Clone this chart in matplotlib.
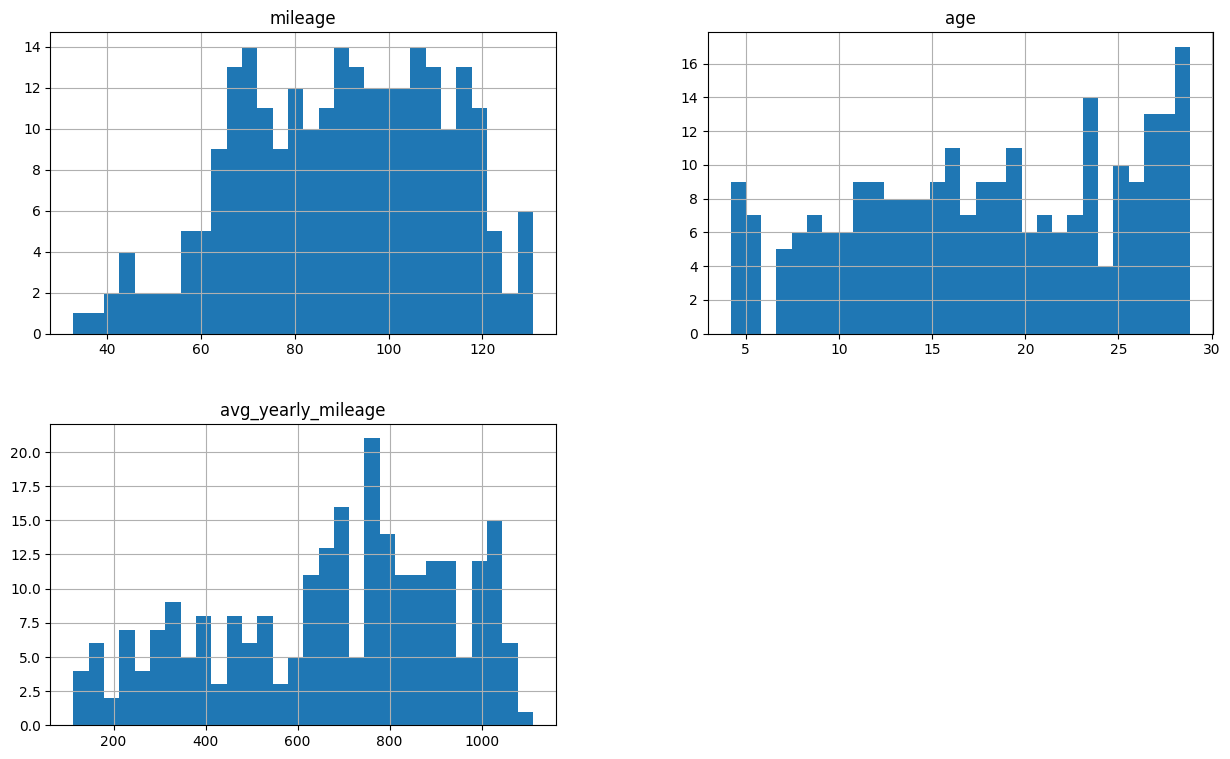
"""
Histograms of mileage, age and avg_yearly_mileage (30 bins each)
"""
import numpy as np
import matplotlib
matplotlib.use("Agg")
import matplotlib.pyplot as plt

# bin ranges (30 equal bins)
mileage_range = (32.8, 130.8)
age_range = (4.18, 28.84)
avg_range = (112.9, 1111.8)

# counts per bin
mileage_counts = [1, 1, 2, 4, 2, 2, 2, 5, 5, 9, 13, 14, 11, 9, 12,
                  10, 11, 14, 13, 12, 12, 12, 14, 13, 10, 13, 11, 5, 2, 6]
age_counts = [9, 7, 0, 5, 6, 7, 6, 6, 9, 9, 8, 8, 8, 9, 11,
              7, 9, 9, 11, 6, 7, 6, 7, 14, 4, 10, 9, 13, 13, 17]
avg_counts = [4, 6, 2, 7, 4, 7, 9, 5, 8, 3, 8, 6, 8, 3, 5,
              11, 13, 16, 5, 21, 14, 11, 11, 12, 12, 5, 12, 15, 6, 1]

panels = [("mileage", mileage_range, mileage_counts),
          ("age", age_range, age_counts),
          ("avg_yearly_mileage", avg_range, avg_counts)]

fig, axes = plt.subplots(2, 2, figsize=(15, 9))
fig.subplots_adjust(wspace=0.3, hspace=0.3)
axes = axes.ravel()

for ax, (name, rng, counts) in zip(axes, panels):
    edges = np.linspace(rng[0], rng[1], len(counts) + 1)
    centers = (edges[:-1] + edges[1:]) / 2
    ax.hist(centers, bins=edges, weights=counts, color="C0")
    ax.set_title(name)
    ax.grid(True)

axes[3].set_visible(False)

plt.savefig("out.png", dpi=100, bbox_inches="tight")
